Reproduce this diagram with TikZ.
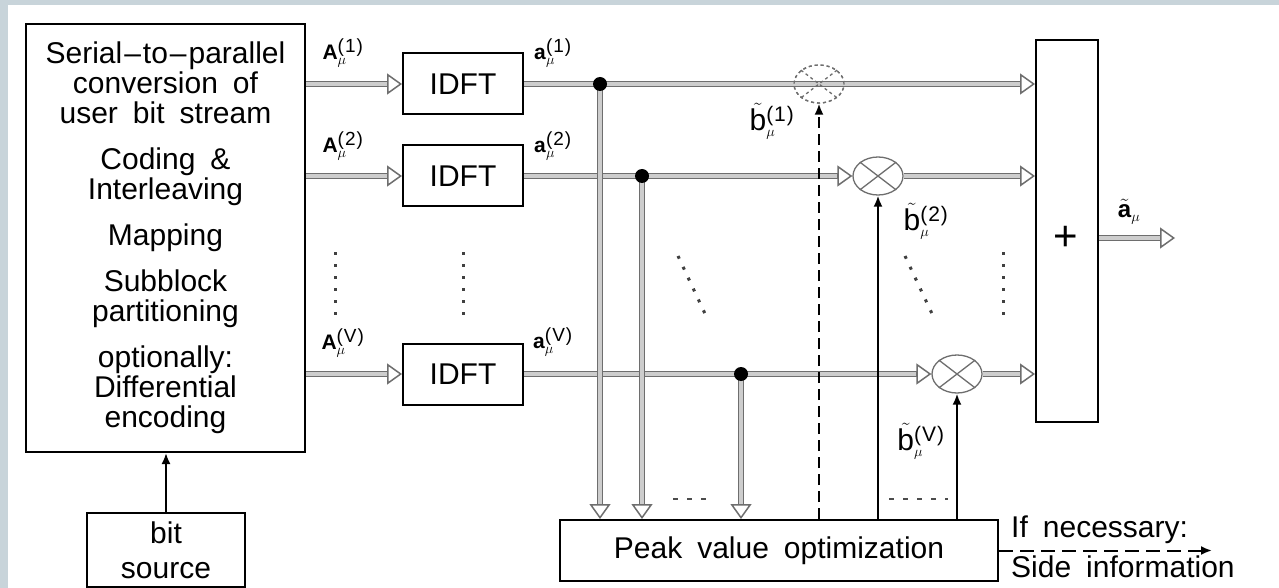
\documentclass[tikz,border=0pt]{standalone}
\usepackage{fontspec}
\setmainfont{Liberation Sans}[WordSpace=1.8]
\usetikzlibrary{arrows.meta,shapes.geometric}
\definecolor{framebg}{RGB}{200,212,218}
\definecolor{dline}{RGB}{110,110,110}
\definecolor{lline}{RGB}{205,205,205}
\newcommand{\mylbl}[4]{#1$^{\hbox{\fontsize{#3}{#3}\selectfont(\kern1pt#2\kern1pt)}}_{\hbox{\fontsize{#4}{#4}\selectfont$\mu$}}$}
\begin{document}
\begin{tikzpicture}[x=1pt,y=-1pt,
  box/.style={draw,line width=2pt,inner sep=0pt,align=center,font=\fontsize{30}{30}\selectfont},
  dbl/.style={line width=6.6pt,draw=dline,-{Triangle[open,length=15pt,width=21pt,line width=1.5pt]},
     postaction={draw=lline,line width=4pt,-,shorten >=15pt}},
  mult/.style={ellipse,draw=dline,line width=1.3pt,minimum width=50pt,minimum height=38pt,inner sep=0pt},
  sig/.style={line width=2pt,-{Latex[length=11pt,width=9pt]}},
  dashsig/.style={sig,dash pattern=on 11pt off 6pt},
  vdots/.style={line width=3pt,dash pattern=on 3pt off 9pt,draw=black!75},
  hdots/.style={line width=1.5pt,dash pattern=on 5pt off 9pt,draw=black!70},
  lab/.style={inner sep=0pt,font=\fontsize{21}{21}\selectfont},
  blab/.style={inner sep=0pt,font=\fontsize{30}{30}\selectfont},
  txt/.style={inner sep=0pt,font=\fontsize{30}{30}\selectfont}
]
\useasboundingbox (0,0) rectangle (1279,588);
\fill[framebg] (0,0) rectangle (1279,588);
\fill[white] (8,5) rectangle (1279,588);

% boxes
\node[box,minimum width=279pt,minimum height=428pt] (src) at (165.5,238)
  {Serial\kern2pt–\kern2pt to\kern2pt–\kern2pt parallel\\conversion of\\user bit stream\\[16pt]Coding \&\\Interleaving\\[16pt]Mapping\\[16pt]Subblock\\partitioning\\[16pt]optionally:\\Differential\\encoding};
\node[box,minimum width=158pt,minimum height=74pt,font=\fontsize{30}{35}\selectfont] (bit) at (166,550) {bit\\source};
\node[box,minimum width=120pt,minimum height=61pt] (i1) at (463,84) {IDFT};
\node[box,minimum width=120pt,minimum height=61pt] (i2) at (463,176) {IDFT};
\node[box,minimum width=120pt,minimum height=61pt] (iV) at (463,374) {IDFT};
\node[box,minimum width=62pt,minimum height=382pt] (sum) at (1067,231) {};
\node[inner sep=0pt,font=\fontsize{42}{42}\selectfont] (plus) at (1066,238) {+};
\node[box,minimum width=438pt,minimum height=61pt] (peak) at (779,550.5) {Peak value optimization};

% multipliers
\node[mult,dashed] (m1) at (819,84) {};
\node[mult] (m2) at (878,176) {};
\node[mult] (mV) at (957,374) {};

% taps and output
\coordinate (t1) at (600,84);
\coordinate (t2) at (642,176);
\coordinate (tV) at (741,374);
\coordinate (out) at (1175,238);
\coordinate (side) at (1212,550);

% row connectors
\draw[dbl] (src.east |- i1) -- (i1.west);
\draw[dbl] (src.east |- i2) -- (i2.west);
\draw[dbl] (src.east |- iV) -- (iV.west);
\draw[dbl] (i1.east) -- (sum.west |- i1);
\draw[dbl] (i2.east) -- (m2.west);
\draw[dbl] (m2.east) -- (sum.west |- m2);
\draw[dbl] (iV.east) -- (mV.west);
\draw[dbl] (mV.east) -- (sum.west |- mV);
\draw[dbl] (sum.east |- out) -- (out);

% column connectors
\draw[dbl] (t1) -- (t1 |- peak.north);
\draw[dbl] (t2) -- (t2 |- peak.north);
\draw[dbl] (tV) -- (tV |- peak.north);
\foreach \t in {t1,t2,tV}{\fill (\t) circle (7pt);}

% multiplier crosses (over the lines)
\foreach \m/\s in {m1/dashed,m2/solid,mV/solid}{
  \draw[draw=dline,line width=1.3pt,\s] (\m.north east) -- (\m.south west) (\m.north west) -- (\m.south east);
}
\node[mult,dashed] at (m1) {};

% control arrows
\draw[sig] (bit.north) -- (bit.north |- src.south);
\draw[dashsig] (peak.north -| m1) -- (m1.south);
\draw[sig] (peak.north -| m2) -- (m2.south);
\draw[sig] (peak.north -| mV) -- (mV.south);
\draw[dashsig,dash pattern=on 14pt off 7pt] (peak.east) -- (side |- peak.east);

% labels
\node[lab] (A1) at (343,53) {\mylbl{\textbf{A}}{1}{19}{14}};
\node[lab] (A2) at (343,146) {\mylbl{\textbf{A}}{2}{19}{14}};
\node[lab] (AV) at (343,343) {\mylbl{\textbf{A}}{V}{19}{14}};
\node[lab] (a1) at (553,53) {\mylbl{\textbf{a}}{1}{19}{14}};
\node[lab] (a2) at (553,146) {\mylbl{\textbf{a}}{2}{19}{14}};
\node[lab] (aV) at (553,342) {\mylbl{\textbf{a}}{V}{19}{14}};
\node[blab] (b1) at (772,121) {\mylbl{$\tilde{\hbox{b}}$}{1}{21}{15}};
\node[blab] (b2) at (926,221) {\mylbl{$\tilde{\hbox{b}}$}{2}{21}{15}};
\node[blab] (bV) at (921,441) {\mylbl{$\tilde{\hbox{b}}$}{V}{21}{15}};
\node[lab,font=\fontsize{24}{24}\selectfont] (at) at (1129,212) {$\tilde{\hbox{\textbf{a}}}_{\hbox{\fontsize{15}{15}\selectfont$\mu$}}$};
\node[txt,anchor=west] (nec) at (1011,530) {If necessary:};
\node[txt,anchor=west] (sinfo) at (1011,567) {Side information};

% ellipsis marks
\draw[vdots] (335,252) -- (335,318);
\draw[vdots] (463,252) -- (463,318);
\draw[vdots] (1003,252) -- (1003,318);
\draw[vdots] (678,256) -- (707,318);
\draw[vdots] (905,256) -- (934,318);
\draw[hdots] (673,499) -- (714,499);
\draw[hdots] (889,499) -- (948,499);
\end{tikzpicture}
\end{document}
